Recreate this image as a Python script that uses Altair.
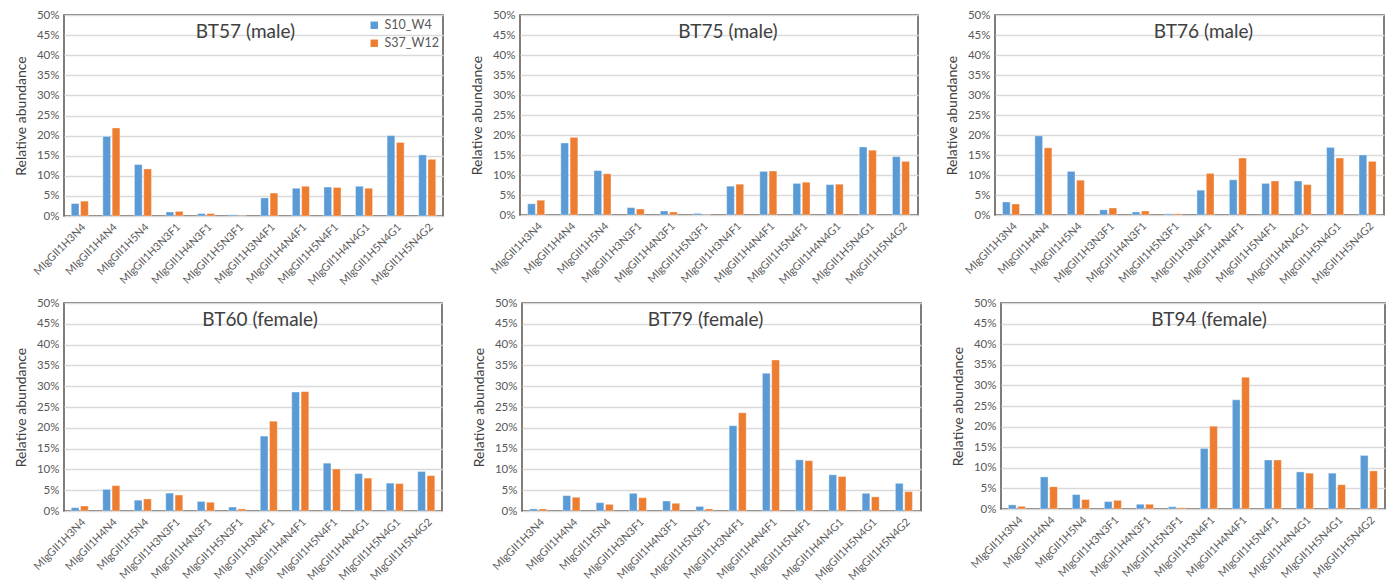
import altair as alt
import pandas as pd

# Glycan categories on the x axis
glycans = [
    "MIgGII1H3N4", "MIgGII1H4N4", "MIgGII1H5N4", "MIgGII1H3N3F1",
    "MIgGII1H4N3F1", "MIgGII1H5N3F1", "MIgGII1H3N4F1", "MIgGII1H4N4F1",
    "MIgGII1H5N4F1", "MIgGII1H4N4G1", "MIgGII1H5N4G1", "MIgGII1H5N4G2",
]
series = ["S10_W4", "S37_W12"]

# Relative abundance (%) per animal, S10_W4 then S37_W12
bt57_w4 = [3.1, 19.8, 12.8, 1.0, 0.6, 0.3, 4.5, 6.9, 7.2, 7.4, 20.0, 15.2]
bt57_w12 = [3.7, 21.9, 11.7, 1.15, 0.6, 0.05, 5.7, 7.4, 7.1, 6.9, 18.3, 14.1]
bt75_w4 = [2.8, 18.0, 11.1, 1.85, 1.0, 0.4, 7.2, 10.9, 7.9, 7.6, 17.0, 14.6]
bt75_w12 = [3.7, 19.4, 10.3, 1.5, 0.75, 0.05, 7.7, 11.0, 8.2, 7.7, 16.2, 13.4]
bt76_w4 = [3.25, 19.8, 10.9, 1.3, 0.75, 0.3, 6.2, 8.8, 7.9, 8.5, 16.9, 15.0]
bt76_w12 = [2.75, 16.8, 8.7, 1.75, 1.0, 0.3, 10.4, 14.25, 8.5, 7.6, 14.25, 13.4]
bt60_w4 = [0.8, 5.2, 2.6, 4.3, 2.3, 0.95, 18.0, 28.6, 11.5, 9.0, 6.7, 9.5]
bt60_w12 = [1.2, 6.1, 2.9, 3.85, 2.1, 0.5, 21.6, 28.7, 10.1, 7.9, 6.6, 8.5]
bt79_w4 = [0.5, 3.7, 2.0, 4.25, 2.4, 1.1, 20.5, 33.1, 12.3, 8.7, 4.25, 6.65]
bt79_w12 = [0.5, 3.3, 1.6, 3.2, 1.85, 0.5, 23.6, 36.3, 12.1, 8.3, 3.4, 4.65]
bt94_w4 = [1.0, 7.8, 3.5, 1.8, 1.15, 0.55, 14.7, 26.5, 11.9, 9.0, 8.7, 13.0]
bt94_w12 = [0.65, 5.4, 2.3, 2.1, 1.15, 0.3, 20.1, 32.0, 11.9, 8.7, 5.9, 9.25]

panel_titles = [
    "BT57 (male)", "BT75 (male)", "BT76 (male)",
    "BT60 (female)", "BT79 (female)", "BT94 (female)",
]

BLUE = "#5B9BD5"
ORANGE = "#ED7D31"
TEXT = "#595959"
FONT = "Lato"


def panel(title, w4, w12, width, height, dx, show_legend=False):
    df = pd.DataFrame({
        "glycan": glycans * 2,
        "series": [series[0]] * len(glycans) + [series[1]] * len(glycans),
        "value": w4 + w12,
    })
    legend = None
    if show_legend:
        legend = alt.Legend(
            title=None, orient="top-right", offset=4, symbolType="square",
            symbolSize=55, symbolStrokeWidth=0, labelFontSize=12.5,
            labelColor=TEXT, labelFont=FONT, rowPadding=5, padding=0,
        )
    return (
        alt.Chart(df, title=alt.TitleParams(
            text=title, frame="group", anchor="middle", offset=-33, dx=dx,
            fontSize=19, fontWeight="normal", color="#404040", font=FONT,
        ))
        .mark_bar(stroke="white", strokeWidth=0.6, strokeOpacity=0.6)
        .encode(
            x=alt.X(
                "glycan:N", sort=glycans,
                scale=alt.Scale(paddingInner=0.46, paddingOuter=0.23),
                axis=alt.Axis(
                    title=None, labelAngle=-45, ticks=False, domain=False,
                    grid=False, labelFontSize=10.8, labelColor=TEXT,
                    labelFont=FONT, labelPadding=5, labelOverlap=False,
                ),
            ),
            xOffset=alt.XOffset(
                "series:N", sort=series,
                scale=alt.Scale(paddingInner=0.17, paddingOuter=0),
            ),
            y=alt.Y(
                "value:Q",
                scale=alt.Scale(domain=[0, 50], nice=False),
                axis=alt.Axis(
                    values=list(range(0, 55, 5)), labelExpr="datum.value + '%'",
                    title="Relative abundance", titleFontSize=14,
                    titleFontWeight="normal", titleColor="#404040",
                    titleFont=FONT, titlePadding=8, labelFontSize=11.5,
                    labelColor=TEXT, labelFont=FONT, labelPadding=5,
                    ticks=False, domain=False, gridColor="#D9D9D9",
                    gridWidth=1.3,
                ),
            ),
            color=alt.Color(
                "series:N",
                scale=alt.Scale(domain=series, range=[BLUE, ORANGE]),
                legend=legend,
            ),
        )
        .properties(width=width, height=height)
    )


top = alt.hconcat(
    panel(panel_titles[0], bt57_w4, bt57_w12, 379, 201, -8, show_legend=True),
    panel(panel_titles[1], bt75_w4, bt75_w12, 398, 200, 9),
    panel(panel_titles[2], bt76_w4, bt76_w12, 389, 200, 14),
    spacing=77, bounds="flush",
).resolve_legend(color="independent")

bottom = alt.hconcat(
    panel(panel_titles[3], bt60_w4, bt60_w12, 378, 208, 7),
    panel(panel_titles[4], bt79_w4, bt79_w12, 399, 208, -16),
    panel(panel_titles[5], bt94_w4, bt94_w12, 384, 206, 16),
    spacing=80, bounds="flush",
).resolve_legend(color="independent")

chart = (
    alt.vconcat(top, bottom, spacing=8)
    .resolve_legend(color="independent")
    .properties(padding={"left": 13, "top": 8, "right": 0, "bottom": 0})
    .configure(font=FONT)
    .configure_view(stroke="#5A5049", strokeWidth=1.5)
)

chart.save("out.html", embed_options={"renderer": "svg", "actions": False})
